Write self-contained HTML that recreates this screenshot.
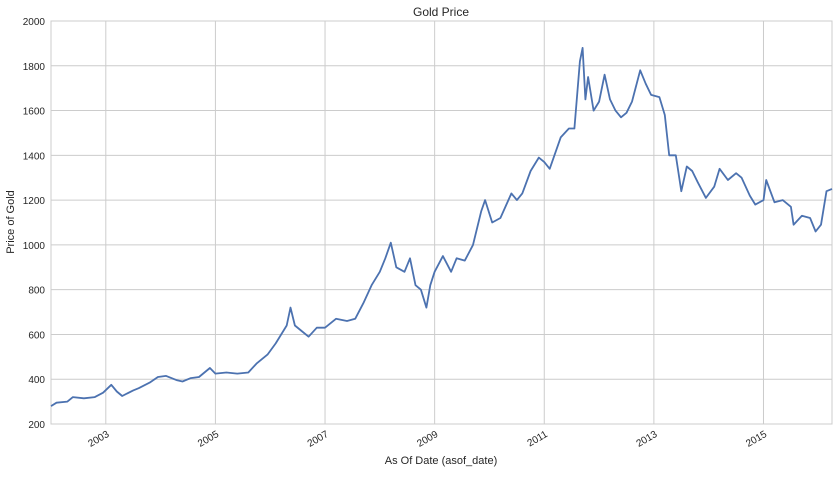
<!DOCTYPE html>
<html><head><meta charset="utf-8"><style>
body{margin:0;background:#fff;font-family:"Liberation Sans",sans-serif;}
svg text{font-family:"Liberation Sans",sans-serif;fill:#262626;}
</style></head><body>
<svg id="chart" width="839" height="473">
<text x="441" y="16" text-anchor="middle" font-size="12">Gold Price</text>
<g id="grid"></g><g id="ticks"></g><g id="series"></g>
<text x="441" y="464" text-anchor="middle" font-size="11">As Of Date (asof_date)</text>
<text transform="translate(14,222) rotate(-90)" text-anchor="middle" font-size="11">Price of Gold</text>
</svg>
<script>
const xTickYears=[2003,2005,2007,2009,2011,2013,2015];
const yTicks=[200,400,600,800,1000,1200,1400,1600,1800,2000];
const dates=[2002.0,2002.1,2002.3,2002.4,2002.6,2002.8,2002.95,2003.1,2003.2,2003.3,2003.5,2003.6,2003.8,2003.95,2004.1,2004.3,2004.4,2004.55,2004.7,2004.9,2005.0,2005.2,2005.4,2005.6,2005.75,2005.95,2006.1,2006.3,2006.37,2006.45,2006.55,2006.7,2006.85,2007.0,2007.2,2007.4,2007.55,2007.7,2007.85,2008.0,2008.1,2008.2,2008.3,2008.45,2008.55,2008.65,2008.75,2008.85,2008.92,2009.0,2009.15,2009.3,2009.4,2009.55,2009.7,2009.85,2009.92,2010.05,2010.2,2010.4,2010.5,2010.6,2010.75,2010.9,2011.0,2011.1,2011.3,2011.45,2011.55,2011.65,2011.7,2011.75,2011.8,2011.9,2012.0,2012.1,2012.2,2012.3,2012.4,2012.5,2012.6,2012.75,2012.85,2012.95,2013.1,2013.2,2013.28,2013.4,2013.5,2013.6,2013.7,2013.8,2013.95,2014.1,2014.2,2014.35,2014.5,2014.6,2014.75,2014.85,2015.0,2015.05,2015.2,2015.35,2015.5,2015.55,2015.7,2015.85,2015.95,2016.05,2016.15,2016.25];
const prices=[280,295,300,320,315,320,340,375,345,325,350,360,385,410,415,395,390,405,410,450,425,430,425,430,470,510,560,640,720,640,620,590,630,630,670,660,670,740,820,880,940,1010,900,880,940,820,800,720,820,880,950,880,940,930,1000,1150,1200,1100,1120,1230,1200,1230,1330,1390,1370,1340,1480,1520,1520,1820,1880,1650,1750,1600,1640,1760,1650,1600,1570,1590,1640,1780,1720,1670,1660,1580,1400,1400,1240,1350,1330,1280,1210,1260,1340,1290,1320,1300,1220,1180,1200,1290,1190,1200,1170,1090,1130,1120,1060,1090,1240,1250];
const L=51,R=832,T=21,B=424,X0=2002.0,X1=2016.25,Y0=200,Y1=2000;
const xs=v=>L+(v-X0)/(X1-X0)*(R-L);
const ys=v=>B-(v-Y0)/(Y1-Y0)*(B-T);
const NS='http://www.w3.org/2000/svg';
function mk(tag,attrs,parent){const e=document.createElementNS(NS,tag);for(const k in attrs)e.setAttribute(k,attrs[k]);document.getElementById(parent).appendChild(e);return e;}
const frame=mk('rect',{x:L,y:T,width:R-L,height:B-T,fill:'none',stroke:'#cccccc','stroke-width':1},'grid');


yTicks.forEach(v=>{
 const l=mk('line',{x1:L,x2:R,y1:ys(v),y2:ys(v),stroke:'#cccccc','stroke-width':1},'grid');
 
 
 const t=mk('text',{x:L-6,y:ys(v)+4,'text-anchor':'end','font-size':'10'},'ticks');
 t.textContent=v;
 
 
});
xTickYears.forEach(v=>{
 const x=xs(v);
 const l=mk('line',{x1:x,x2:x,y1:T,y2:B,stroke:'#cccccc','stroke-width':1},'grid');
 
 
 const t=mk('text',{transform:`translate(${x+4},${B+12}) rotate(-30)`,'text-anchor':'end','font-size':'10'},'ticks');
 t.textContent=v;
 
 
});
const p=mk('polyline',{points:dates.map((d,i)=>xs(d).toFixed(1)+','+ys(prices[i]).toFixed(1)).join(' '),fill:'none',stroke:'#4c72b0','stroke-width':1.8,'stroke-linejoin':'round'},'series');


</script>
</body></html>
